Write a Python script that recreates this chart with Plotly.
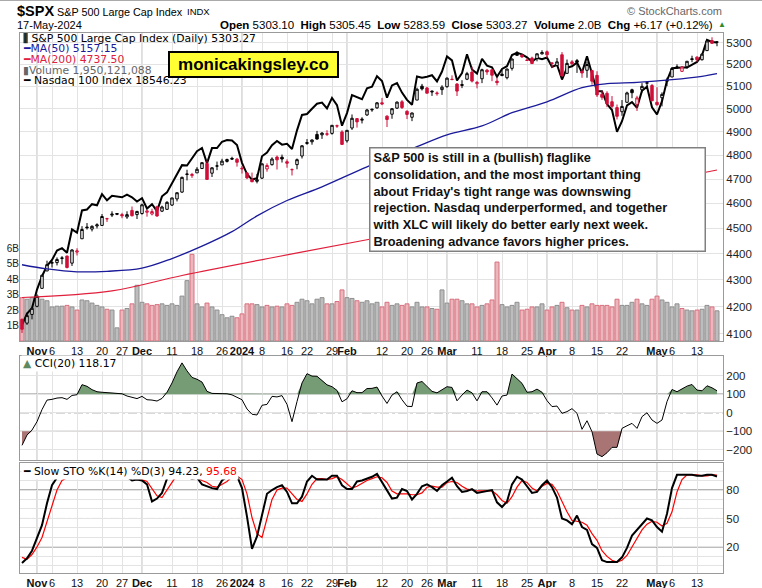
import pandas as pd
import plotly.graph_objects as go

# trading days shown on the chart (27-Oct-2023 .. 17-May-2024)
holidays = ['2023-11-23', '2023-12-25', '2024-01-01', '2024-01-15', '2024-02-19', '2024-03-29']
days = pd.bdate_range('2023-10-27', '2024-05-17')
days = days[~days.isin(pd.to_datetime(holidays))]
dates = [d.strftime('%Y-%m-%d') for d in days]

prev_close = 4137.2  # close of 26-Oct, used only for the first bar colour

open_ = [4152.9, 4139.4, 4171.3, 4201.3, 4268.3, 4334.2, 4364.3, 4366.2, 4384.4, 4391.4,
         4364.2, 4406.7, 4458.9, 4505.3, 4497.1, 4509.6, 4511.7, 4538.8, 4553.0, 4555.8,
         4554.9, 4545.6, 4571.8, 4554.9, 4559.4, 4564.4, 4557.3, 4586.2, 4568.8, 4576.2,
         4593.4, 4618.3, 4646.2, 4721.0, 4714.2, 4725.6, 4743.7, 4764.7, 4724.3, 4753.9,
         4758.9, 4773.5, 4786.4, 4782.9, 4745.2, 4725.1, 4697.4, 4690.6, 4703.7, 4741.9,
         4759.9, 4792.1, 4791.2, 4772.4, 4739.1, 4760.1, 4796.3, 4853.4, 4856.8, 4888.6,
         4886.7, 4888.9, 4892.9, 4925.9, 4899.2, 4861.1, 4916.1, 4957.2, 4950.2, 4973.1,
         4995.2, 5004.2, 5026.8, 4967.9, 4976.4, 5003.1, 5031.1, 4989.3, 4963.0, 5038.8,
         5100.9, 5093.0, 5074.6, 5067.2, 5085.4, 5098.5, 5132.0, 5110.5, 5108.0, 5132.4,
         5164.5, 5112.0, 5134.3, 5173.5, 5175.1, 5123.3, 5154.8, 5139.1, 5181.7, 5253.4,
         5242.5, 5219.5, 5228.9, 5226.3, 5248.0, 5258.0, 5204.3, 5194.4, 5244.1, 5158.9,
         5211.4, 5217.0, 5167.9, 5173.0, 5171.5, 5149.7, 5064.6, 5069.0, 5031.5, 5005.4,
         4987.3, 5028.9, 5084.7, 5019.9, 5084.6, 5114.1, 5103.8, 5029.0, 5049.3, 5122.8,
         5142.4, 5187.2, 5168.0, 5189.0, 5225.5, 5233.1, 5221.1, 5263.3, 5310.1, 5303.10]
high = [4156.7, 4177.5, 4194.0, 4245.6, 4319.7, 4373.6, 4372.2, 4386.3, 4391.2, 4393.4,
        4418.0, 4421.8, 4508.7, 4521.2, 4511.9, 4520.1, 4557.1, 4542.1, 4568.4, 4560.3,
        4562.1, 4568.2, 4587.6, 4569.9, 4599.4, 4572.4, 4578.6, 4590.7, 4590.9, 4609.2,
        4622.7, 4643.9, 4709.7, 4738.6, 4725.5, 4749.5, 4768.7, 4778.0, 4748.7, 4772.9,
        4784.7, 4785.4, 4793.3, 4788.4, 4754.3, 4729.3, 4726.8, 4721.5, 4764.5, 4765.5,
        4790.8, 4798.5, 4802.4, 4782.3, 4744.2, 4785.8, 4842.1, 4868.4, 4866.5, 4903.7,
        4898.2, 4906.7, 4929.3, 4931.1, 4906.8, 4907.0, 4975.3, 4957.2, 4963.1, 4999.9,
        5000.4, 5030.1, 5048.4, 4971.3, 5002.5, 5032.7, 5038.7, 4993.7, 4983.2, 5094.4,
        5111.1, 5097.7, 5080.7, 5077.4, 5105.0, 5140.3, 5149.7, 5114.5, 5128.0, 5165.6,
        5189.3, 5124.7, 5179.9, 5179.1, 5176.9, 5136.9, 5175.6, 5180.3, 5226.2, 5261.1,
        5246.1, 5229.1, 5235.2, 5249.3, 5264.9, 5264.0, 5208.3, 5228.8, 5256.6, 5222.2,
        5219.6, 5224.8, 5178.4, 5211.8, 5175.0, 5168.4, 5079.8, 5078.0, 5056.7, 5019.0,
        5038.8, 5076.1, 5089.5, 5057.8, 5114.6, 5123.5, 5110.8, 5096.1, 5073.2, 5139.1,
        5181.0, 5200.2, 5192.0, 5214.5, 5239.7, 5237.3, 5250.4, 5311.8, 5325.5, 5305.45]
low = [4103.8, 4132.9, 4153.1, 4197.7, 4268.3, 4334.2, 4347.5, 4355.4, 4359.8, 4343.9,
       4353.3, 4393.8, 4458.9, 4495.3, 4487.8, 4499.7, 4510.4, 4525.5, 4545.1, 4552.8,
       4540.5, 4537.9, 4547.2, 4537.2, 4554.7, 4546.7, 4551.7, 4546.5, 4565.2, 4574.1,
       4589.5, 4608.1, 4643.2, 4694.3, 4704.7, 4725.6, 4743.6, 4697.8, 4708.4, 4736.8,
       4758.5, 4768.9, 4780.7, 4751.9, 4722.7, 4699.7, 4687.5, 4682.1, 4699.8, 4730.4,
       4756.2, 4739.6, 4768.9, 4747.1, 4714.8, 4740.6, 4785.9, 4844.1, 4844.4, 4865.9,
       4869.3, 4881.5, 4887.4, 4916.8, 4845.2, 4853.5, 4907.9, 4918.1, 4936.0, 4969.1,
       4987.1, 5000.3, 5016.3, 4920.3, 4956.4, 4999.4, 4999.5, 4955.0, 4946.0, 5038.8,
       5081.5, 5068.9, 5057.3, 5058.4, 5061.9, 5094.2, 5127.2, 5056.8, 5092.2, 5128.2,
       5117.5, 5091.1, 5114.5, 5151.9, 5123.3, 5104.4, 5145.5, 5131.6, 5171.6, 5240.7,
       5229.9, 5216.1, 5203.4, 5213.9, 5245.8, 5229.2, 5184.1, 5194.4, 5146.1, 5157.2,
       5197.4, 5160.8, 5138.7, 5138.8, 5107.9, 5052.5, 5039.8, 5007.3, 5001.9, 4953.6,
       4969.4, 5028.0, 5047.0, 4990.6, 5073.1, 5088.7, 5035.3, 5013.5, 5011.1, 5101.2,
       5142.4, 5179.0, 5165.9, 5180.4, 5209.7, 5211.2, 5218.0, 5263.3, 5296.2, 5283.59]
close = [4117.4, 4166.8, 4193.8, 4237.9, 4317.8, 4358.3, 4366.0, 4378.4, 4382.8, 4347.4,
         4415.2, 4411.6, 4495.7, 4502.9, 4508.2, 4514.0, 4547.4, 4538.2, 4556.6, 4559.3,
         4550.4, 4554.9, 4550.6, 4567.8, 4594.6, 4569.8, 4567.2, 4549.3, 4585.6, 4604.4,
         4622.4, 4643.7, 4707.1, 4719.6, 4719.2, 4740.6, 4768.4, 4698.4, 4746.8, 4754.6,
         4774.8, 4781.6, 4783.4, 4769.8, 4742.8, 4704.8, 4688.7, 4697.2, 4763.5, 4756.5,
         4783.5, 4780.2, 4783.8, 4766.0, 4739.2, 4780.9, 4839.8, 4850.4, 4864.6, 4868.6,
         4894.2, 4891.0, 4927.9, 4925.0, 4845.7, 4906.2, 4958.6, 4942.8, 4954.2, 4995.1,
         4997.9, 5026.6, 5021.8, 4953.2, 5000.6, 5029.7, 5005.6, 4975.5, 4981.8, 5087.0,
         5088.8, 5069.5, 5078.2, 5069.8, 5096.3, 5137.1, 5131.0, 5078.7, 5104.8, 5157.4,
         5123.7, 5117.9, 5175.3, 5165.3, 5150.5, 5117.1, 5149.4, 5178.5, 5224.6, 5241.5,
         5234.2, 5218.2, 5203.6, 5248.5, 5254.4, 5243.8, 5205.8, 5211.5, 5147.2, 5204.3,
         5202.4, 5209.9, 5160.6, 5199.1, 5123.4, 5061.8, 5051.4, 5022.2, 5011.1, 4967.2,
         5010.6, 5070.6, 5071.6, 5048.4, 5100.0, 5116.2, 5035.7, 5018.4, 5064.2, 5127.8,
         5180.7, 5187.7, 5187.67, 5214.1, 5222.7, 5221.4, 5246.7, 5308.2, 5297.1, 5303.27]

# Nasdaq 100 closes (overlay, own scale)
ndx = [14180, 14336, 14410, 14666, 14854, 15000, 15085, 15220, 15255, 15189,
       15529, 15482, 15812, 15826, 15906, 15890, 16060, 15964, 16034, 16024,
       16010, 16051, 16011, 15947, 15997, 15840, 15906, 15802, 16025, 16085,
       16221, 16347, 16507, 16502, 16623, 16727, 16779, 16535, 16777, 16778,
       16878, 16906, 16898, 16826, 16543, 16368, 16282, 16305, 16647, 16704,
       16823, 16891, 16832, 16845, 16763, 17062, 17314, 17329, 17416, 17499,
       17518, 17421, 17596, 17476, 17137, 17344, 17642, 17607, 17573, 17757,
       17784, 17963, 17882, 17600, 17806, 17846, 17685, 17563, 17482, 17959,
       17937, 17953, 17979, 17874, 18043, 18303, 18234, 17889, 18017, 18339,
       18078, 18008, 18263, 18143, 18115, 17953, 18088, 18134, 18327, 18365,
       18339, 18287, 18210, 18280, 18255, 18285, 18123, 18160, 17906, 18107,
       18133, 18196, 18026, 18305, 18003, 17707, 17707, 17493, 17394, 17037,
       17210, 17472, 17526, 17431, 17718, 17783, 17441, 17321, 17541, 17890,
       18099, 18108, 18113, 18111, 18161, 18209, 18323, 18593, 18557, 18546.23]

# volume, billions
volume = [2.8, 2.7, 2.8, 2.9, 2.7, 2.6, 2.2, 2.25, 2.25, 2.3,
          2.2, 2.0, 2.65, 2.6, 2.45, 2.3, 2.2, 2.05, 2.0, 0.85,
          2.0, 2.1, 2.4, 3.6, 2.5, 2.4, 2.3, 2.35, 2.4, 2.3,
          2.4, 2.3, 2.9, 3.9, 5.6, 2.4, 2.2, 2.45, 2.2, 2.0,
          1.7, 1.5, 1.6, 1.5, 1.75, 2.4, 2.4, 2.35, 2.2, 2.3,
          2.2, 2.25, 2.2, 2.4, 2.3, 2.5, 2.7, 2.6, 2.4, 2.7,
          2.8, 2.4, 2.4, 2.55, 3.3, 2.8, 2.75, 2.6, 2.5, 2.6,
          2.4, 2.5, 2.2, 2.5, 2.3, 2.4, 2.3, 2.4, 2.2, 2.5,
          2.2, 2.2, 2.1, 2.05, 3.3, 2.45, 2.7, 2.7, 2.6, 2.4,
          2.4, 2.2, 2.3, 2.4, 2.65, 5.1, 2.35, 2.2, 2.3, 2.5,
          2.0, 2.05, 2.2, 2.2, 2.4, 2.0, 2.2, 2.3, 2.5, 2.15,
          2.0, 2.0, 2.3, 2.2, 2.4, 2.3, 2.3, 2.3, 2.2, 2.7,
          2.3, 2.3, 2.5, 2.7, 2.4, 2.3, 2.7, 2.9, 2.65, 2.5,
          2.2, 2.4, 2.1, 2.0, 1.95, 2.0, 2.05, 2.3, 2.2, 1.95]

# moving averages (sparse points, smooth lines)
ma50_pos = [0, 5, 11, 17, 24, 30, 36, 42, 47, 53, 60, 69, 79, 85, 92, 98, 105, 112, 117, 123, 130, 136, 139]
ma50_val = [4358, 4342, 4331, 4333, 4345, 4382, 4430, 4487, 4550, 4612, 4668, 4751, 4836, 4887,
            4925, 4983, 5031, 5094, 5112, 5118, 5130, 5145, 5157.15]
ma200_pos = [0, 18, 32, 50, 69, 139]
ma200_val = [4234, 4259, 4317, 4385, 4455, 4737.5]

cci = [-175, -120, -93, -48, 17, 68, 72, 79, 81, 72,
       93, 97, 151, 142, 124, 113, 110, 108, 110, 104,
       102, 90, 84, 76, 88, 70, 68, 63, 77, 110,
       160, 220, 268, 225, 190, 180, 165, 115, 104, 104,
       104, 102, 96, 85, 70, 20, -8, -12, 40, 45,
       88, 85, 92, 45, -48, 60, 160, 210, 197, 196,
       175, 150, 140, 120, 59, 75, 118, 108, 108, 130,
       131, 138, 90, 50, 95, 113, 70, 35, 33, 160,
       168, 140, 115, 107, 125, 140, 136, 64, 95, 122,
       107, 64, 113, 113, 80, 41, 90, 95, 208, 185,
       158, 110, 113, 127, 110, 65, 33, 36, -3, 6,
       22, -3, -89, -43, -102, -222, -236, -215, -186, -186,
       -84, -70, -57, -84, -21, 0, -39, -57, -39, 60,
       125, 113, 130, 143, 152, 122, 118, 145, 134, 118.17]

pct_k = [3, 8, 16, 29, 43, 66, 85, 93, 93, 93,
         94, 98, 99, 99, 99, 99, 98, 97, 97, 96,
         95, 94, 90, 91, 90, 86, 68, 71, 77, 92,
         99, 99, 97, 94, 92, 93, 86, 84, 82, 81,
         90, 94, 96, 95, 82, 52, 18, 31, 52, 76,
         80, 83, 85, 78, 66, 66, 73, 89, 95, 91,
         91, 91, 95, 95, 85, 81, 81, 89, 90, 92,
         94, 97, 88, 79, 71, 72, 81, 79, 70, 76,
         84, 86, 83, 79, 85, 89, 93, 84, 78, 79,
         81, 77, 78, 79, 80, 67, 62, 68, 86, 94,
         91, 84, 77, 78, 85, 90, 83, 72, 50, 48,
         44, 53, 41, 38, 23, 19, 6, 4, 4, 4,
         9, 19, 32, 38, 43, 50, 48, 41, 36, 55,
         82, 96, 96, 96, 96, 95, 95, 96, 96, 94.23]
pct_d = [9, 7, 12, 20, 30, 46, 63, 80, 90, 93,
         94, 95, 97, 98, 99, 99, 99, 98, 97, 96,
         95, 94, 93, 91, 91, 89, 81, 74, 72, 80,
         89, 96, 98, 96, 94, 93, 90, 88, 84, 83,
         86, 89, 94, 95, 91, 76, 51, 34, 30, 50,
         70, 80, 82, 82, 76, 70, 68, 76, 86, 92,
         92, 91, 92, 94, 91, 87, 82, 84, 87, 90,
         92, 94, 93, 88, 79, 76, 76, 76, 75, 75,
         77, 83, 84, 83, 83, 88, 89, 88, 84, 81,
         80, 79, 79, 79, 79, 75, 69, 66, 73, 83,
         90, 88, 82, 79, 84, 87, 86, 79, 68, 57,
         48, 47, 46, 43, 34, 27, 16, 10, 6, 4,
         6, 11, 20, 30, 38, 44, 47, 46, 42, 45,
         57, 78, 91, 96, 96, 96, 95, 95, 96, 95.68]

tick_dates = ['2023-11-01', '2023-11-06', '2023-11-13', '2023-11-20', '2023-11-27', '2023-12-01',
              '2023-12-11', '2023-12-18', '2023-12-26', '2024-01-02', '2024-01-08', '2024-01-16',
              '2024-01-22', '2024-01-29', '2024-02-01', '2024-02-12', '2024-02-20', '2024-02-26',
              '2024-03-01', '2024-03-11', '2024-03-18', '2024-03-25', '2024-04-01', '2024-04-08',
              '2024-04-15', '2024-04-22', '2024-05-01', '2024-05-06', '2024-05-13']
tick_text = ['<b>Nov</b>', '6', '13', '20', '27', '<b>Dec</b>', '11', '18', '26', '<b>2024</b>', '8', '16',
             '22', '29', '<b>Feb</b>', '12', '20', '26', '<b>Mar</b>', '11', '18', '25', '<b>Apr</b>', '8',
             '15', '22', '<b>May</b>', '6', '13']
month_dates = ['2023-11-01', '2023-12-01', '2024-01-02', '2024-02-01', '2024-03-01', '2024-04-01', '2024-05-01']

RED = '#d0103a'
n = len(dates)

# stockcharts colouring: black if up vs previous close, red otherwise
prev = [prev_close] + close[:-1]
up_idx = [i for i in range(n) if close[i] >= prev[i]]
dn_idx = [i for i in range(n) if close[i] < prev[i]]


def pick(arr, idx):
    return [arr[i] for i in idx]


def px_x(x):
    return (x - 20) / 703


def px_y(y):
    return (573 - y) / 540


fig = go.Figure()

# volume (base axis)
fig.add_trace(go.Bar(
    x=dates, y=volume, yaxis='y', xaxis='x', width=0.8,
    marker=dict(color=['#bdbdbd' if close[i] >= prev[i] else '#ebb7bc' for i in range(n)],
                line=dict(color=['#8f8f8f' if close[i] >= prev[i] else '#d9707e' for i in range(n)], width=1)),
    showlegend=False, hoverinfo='skip'))

# nasdaq 100 overlay
fig.add_trace(go.Scatter(x=dates, y=ndx, xaxis='x', yaxis='y2', mode='lines',
                         line=dict(color='black', width=2), showlegend=False))

# moving averages
fig.add_trace(go.Scatter(x=pick(dates, ma200_pos), y=ma200_val, xaxis='x', yaxis='y3', mode='lines',
                         line=dict(color='#e0203c', width=1.2, shape='spline'), showlegend=False))
fig.add_trace(go.Scatter(x=pick(dates, ma50_pos), y=ma50_val, xaxis='x', yaxis='y3', mode='lines',
                         line=dict(color='#1a1a9a', width=1.3, shape='spline'), showlegend=False))

# candles
for idx, col in [(up_idx, 'black'), (dn_idx, RED)]:
    fig.add_trace(go.Candlestick(
        x=pick(dates, idx), open=pick(open_, idx), high=pick(high, idx),
        low=pick(low, idx), close=pick(close, idx), xaxis='x', yaxis='y3',
        increasing=dict(line=dict(color=col, width=1), fillcolor='white'),
        decreasing=dict(line=dict(color=col, width=1), fillcolor=col),
        whiskerwidth=0, showlegend=False))

# CCI panel
fig.add_trace(go.Scatter(x=dates, y=[100] * n, xaxis='x2', yaxis='y4', mode='lines',
                         line=dict(width=0), showlegend=False, hoverinfo='skip'))
fig.add_trace(go.Scatter(x=dates, y=[max(v, 100) for v in cci], xaxis='x2', yaxis='y4', mode='lines',
                         line=dict(width=0), fill='tonexty', fillcolor='#769c76', showlegend=False))
fig.add_trace(go.Scatter(x=dates, y=[-100] * n, xaxis='x2', yaxis='y4', mode='lines',
                         line=dict(width=0), showlegend=False, hoverinfo='skip'))
fig.add_trace(go.Scatter(x=dates, y=[min(v, -100) for v in cci], xaxis='x2', yaxis='y4', mode='lines',
                         line=dict(width=0), fill='tonexty', fillcolor='#a87474', showlegend=False))
fig.add_trace(go.Scatter(x=dates, y=cci, xaxis='x2', yaxis='y4', mode='lines',
                         line=dict(color='black', width=1), showlegend=False))

# slow stochastics
fig.add_trace(go.Scatter(x=dates, y=pct_d, xaxis='x3', yaxis='y5', mode='lines',
                         line=dict(color='#ff0000', width=1.2), showlegend=False))
fig.add_trace(go.Scatter(x=dates, y=pct_k, xaxis='x3', yaxis='y5', mode='lines',
                         line=dict(color='black', width=2), showlegend=False))

GRID = '#e3e3e3'
xcommon = dict(type='category', categoryorder='array', categoryarray=dates, range=[-0.4, 140.2],
               tickvals=tick_dates, ticktext=tick_text, tickangle=0, automargin=False,
               showgrid=True, gridcolor=GRID,
               showline=True, mirror=True, linecolor='#9a9a9a', ticks='',
               tickfont=dict(size=11, color='#111'))

shapes = []
for xr, yr in [('x', 'y domain'), ('x2', 'y4 domain'), ('x3', 'y5 domain')]:
    for d in month_dates:
        shapes.append(dict(type='line', xref=xr, yref=yr, x0=d, x1=d, y0=0, y1=1,
                           line=dict(color='#bcbcbc', width=1), layer='below'))
for lvl, dash in [(100, 'solid'), (-100, 'solid'), (0, 'dashdot')]:
    shapes.append(dict(type='line', xref='x2 domain', yref='y4', x0=0, x1=1, y0=lvl, y1=lvl,
                       line=dict(color='#606060', width=1, dash=dash), layer='below'))
for lvl, dash in [(80, 'solid'), (20, 'solid'), (50, 'dashdot')]:
    shapes.append(dict(type='line', xref='x3 domain', yref='y5', x0=0, x1=1, y0=lvl, y1=lvl,
                       line=dict(color='#606060', width=1, dash=dash), layer='below'))
shapes.append(dict(type='line', xref='paper', yref='paper', x0=px_x(0), x1=px_x(762),
                   y0=px_y(0.5), y1=px_y(0.5), line=dict(color='#aaaaaa', width=1)))

ann = []


def note(x, y, text, size=11, color='black', family='Liberation Sans', anchor='left', **kw):
    ann.append(dict(xref='paper', yref='paper', x=px_x(x), y=px_y(y), text=text, showarrow=False,
                    xanchor=anchor, yanchor='middle', font=dict(size=size, color=color, family=family), **kw))


# header
note(15, 11, '<b>$SPX</b>', size=14.5)
note(55, 12, 'S&P 500 Large Cap Index', size=10.8)
note(185, 12, 'INDX', size=9.5)
note(15, 25, '17-May-2024', size=11)
note(715, 25, '<b>Open</b> 5303.10  <b>High</b> 5305.45  <b>Low</b> 5283.59  <b>Close</b> 5303.27  '
     '<b>Volume</b> 2.0B  <b>Chg</b> +6.17 (+0.12%)', size=11.5, anchor='right')
note(716, 25, '▲', size=8, color='#2e8b2e')
note(724, 11, '© StockCharts.com', size=11, color='#666', anchor='right')

# price panel legend
LF = 'DejaVu Sans'
note(21, 38, '<b>⫼</b> S&P 500 Large Cap Index (Daily) 5303.27', size=10.8, family=LF)
note(21, 48.5, '<b>━</b>MA(50) 5157.15', size=10.8, color='#1a1a9a', family=LF)
note(21, 59, '<b>━</b>MA(200) 4737.50', size=10.8, color='#e0203c', family=LF)
note(21, 70, '▮Volume 1,950,121,088', size=10.8, color='#666', family=LF)
note(21, 80, '<b>━</b> Nasdaq 100 Index 18546.23', size=10.8, family=LF)

# CCI / STO legends
note(21, 363, '<span style="color:#5f8a5f">▲</span> CCI(20) 118.17', size=10.8, family=LF, bgcolor='white')
note(21, 471, '<b>━</b> Slow STO %K(14) %D(3) 94.23, <span style="color:red">95.68</span>',
     size=10.8, family=LF, bgcolor='white')

# site tag
ann.append(dict(xref='paper', yref='paper', x=px_x(253.5), y=px_y(64.5), xanchor='center', yanchor='middle',
                text='<b>monicakingsley.co</b>', showarrow=False, bgcolor='#ffff33',
                bordercolor='black', borderwidth=2, borderpad=2, width=163, height=19,
                font=dict(size=17, color='black', family='Liberation Sans')))

# comment box
comment = ("S&P 500 is still in a (bullish) flaglike<br>"
           "consolidation, and the most important thing<br>"
           "about Friday's tight range was downswing<br>"
           "rejection. Nasdaq underperformed, and together<br>"
           "with XLC will likely do better early next week.<br>"
           "Broadening advance favors higher prices.")
ann.append(dict(xref='paper', yref='paper', x=px_x(369), y=px_y(147), xanchor='left', yanchor='top',
                text='<b>' + comment + '</b>', showarrow=False, align='left', valign='middle',
                bgcolor='white', bordercolor='#808080', borderwidth=1.5, borderpad=2,
                width=330, height=98, font=dict(size=12.8, color='#111', family='Liberation Sans')))

fig.update_layout(
    width=762, height=588,
    margin=dict(l=20, r=39, t=33, b=15, autoexpand=False),
    paper_bgcolor='white', plot_bgcolor='white',
    font=dict(family='Liberation Sans', size=11, color='#222'),
    showlegend=False,
    xaxis=dict(xcommon, anchor='y', domain=[0, 1], rangeslider=dict(visible=False)),
    xaxis2=dict(xcommon, anchor='y4', domain=[0, 1], matches='x', showticklabels=False),
    xaxis3=dict(xcommon, anchor='y5', domain=[0, 1], matches='x'),
    yaxis=dict(domain=[px_y(341), 1], range=[0, 19.9], side='left', showgrid=False, zeroline=False,
               tickvals=[1, 2, 3, 4, 5, 6], ticktext=['1B', '2B', '3B', '4B', '5B', '6B'],
               tickfont=dict(size=10, color='#222'), ticks='', automargin=False),
    yaxis2=dict(overlaying='y', type='log', range=[4.1451, 4.2722], visible=False),
    yaxis3=dict(overlaying='y', type='log', range=[3.6101, 3.7280], side='right', automargin=False,
                tickvals=[4100, 4200, 4300, 4400, 4500, 4600, 4700, 4800, 4900, 5000, 5100, 5200, 5300],
                ticktext=[str(v) for v in range(4100, 5400, 100)],
                showgrid=True, gridcolor=GRID, showline=True, mirror=True, linecolor='#9a9a9a',
                tickfont=dict(size=11.5, color='#222'), ticks=''),
    yaxis4=dict(domain=[px_y(460), px_y(356)], anchor='x2', range=[-254, 305], side='right', automargin=False,
                tickvals=[-200, -100, 0, 100, 200], showgrid=True, gridcolor=GRID, zeroline=False,
                showline=True, mirror=True, linecolor='#9a9a9a', tickfont=dict(size=11.5, color='#222'), ticks=''),
    yaxis5=dict(domain=[0, px_y(463)], anchor='x3', range=[-7.5, 108.5], side='right', automargin=False,
                tickvals=list(range(0, 101, 10)),
                ticktext=['', '', '20', '', '', '50', '', '', '80', '', ''],
                showgrid=True, gridcolor=GRID, zeroline=False,
                showline=True, mirror=True, linecolor='#9a9a9a', tickfont=dict(size=11.5, color='#222'), ticks=''),
    shapes=shapes,
    annotations=ann,
)

# drop the browser's default body margin so the chart sits at the page corner
fig.write_html("out.html", config={'displayModeBar': False},
               post_script="document.body.style.margin='0';")
